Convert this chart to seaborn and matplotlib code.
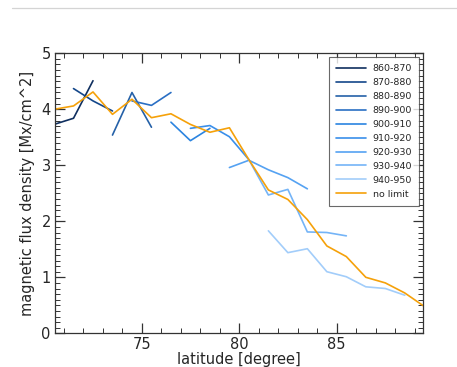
import numpy as np
import pandas as pd
import matplotlib
matplotlib.use("Agg")
import matplotlib.pyplot as plt
from matplotlib.lines import Line2D
from matplotlib.ticker import MultipleLocator
import seaborn as sns

# ---- data ----
ranges = ["860-870", "870-880", "880-890", "890-900", "900-910",
          "910-920", "920-930", "930-940", "940-950", "no limit"]

lat_860 = [70.5, 71.5, 72.5]
val_860 = [3.73, 3.84, 4.51]
lat_870 = [71.5, 72.5, 73.5]
val_870 = [4.37, 4.15, 3.97]
lat_880 = [73.5, 74.5, 75.5]
val_880 = [3.54, 4.30, 3.68]
lat_890 = [74.5, 75.5, 76.5]
val_890 = [4.15, 4.07, 4.30]
lat_900 = [76.5, 77.5, 78.5]
val_900 = [3.77, 3.44, 3.66]
lat_910 = [77.5, 78.5, 79.5, 80.5]
val_910 = [3.66, 3.71, 3.51, 3.10]
lat_920 = [79.5, 80.5, 81.5, 82.5, 83.5]
val_920 = [2.96, 3.09, 2.92, 2.78, 2.58]
lat_930 = [80.5, 81.5, 82.5, 83.5, 84.5, 85.5]
val_930 = [3.10, 2.47, 2.57, 1.81, 1.80, 1.74]
lat_940 = [81.5, 82.5, 83.5, 84.5, 85.5, 86.5, 87.5, 88.5]
val_940 = [1.83, 1.44, 1.51, 1.10, 1.01, 0.83, 0.80, 0.68]
lat_all = [70.5, 71.5, 72.5, 73.5, 74.5, 75.5, 76.5, 77.5, 78.5, 79.5,
           80.5, 81.5, 82.5, 83.5, 84.5, 85.5, 86.5, 87.5, 88.5, 89.5]
val_all = [4.00, 4.06, 4.31, 3.91, 4.18, 3.85, 3.92, 3.73, 3.59, 3.67,
           3.10, 2.56, 2.39, 2.03, 1.56, 1.37, 1.00, 0.90, 0.72, 0.48]

x_ticks = [75, 80, 85]
y_ticks = [0, 1, 2, 3, 4, 5]

colors = ["#0f2f5f", "#14478a", "#2561a8", "#2a6fc4", "#2b84e0",
          "#3a8fea", "#55a2f2", "#74b4f7", "#a2cdfa", "#f5a10a"]

series = [(lat_860, val_860), (lat_870, val_870), (lat_880, val_880),
          (lat_890, val_890), (lat_900, val_900), (lat_910, val_910),
          (lat_920, val_920), (lat_930, val_930), (lat_940, val_940),
          (lat_all, val_all)]

rows = []
for name, (la, va) in zip(ranges, series):
    for a, b in zip(la, va):
        rows.append({"latitude": a, "flux": b, "range": name})
df = pd.DataFrame(rows)

# ---- plot ----
sns.set_style("ticks")
plt.rcParams["font.family"] = ["DejaVu Sans"]

fig = plt.figure(figsize=(4.57, 3.67), dpi=100)
ax = fig.add_axes([55 / 457, 1 - 333.3 / 367, (423.3 - 55) / 457, (333.3 - 53.3) / 367])

sns.lineplot(data=df, x="latitude", y="flux", hue="range", hue_order=ranges,
             palette=dict(zip(ranges, colors)), sort=False, estimator=None,
             linewidth=1.2, ax=ax)

ax.set_xlim(70.55, 89.45)
ax.set_ylim(0, 5)
ax.set_xticks(x_ticks)
ax.set_yticks(y_ticks)
ax.xaxis.set_minor_locator(MultipleLocator(1))
ax.yaxis.set_minor_locator(MultipleLocator(0.1))
ax.tick_params(which="both", direction="in", top=True, right=True,
               color="#333333", labelsize=10.5)
ax.tick_params(which="major", length=7, width=0.9, pad=3)
ax.tick_params(which="minor", length=3.5, width=0.7)
for s in ax.spines.values():
    s.set_color("#333333")
    s.set_linewidth(0.9)

ax.set_xlabel("latitude [degree]", fontsize=10.5, labelpad=0)
ax.set_ylabel("magnetic flux density [Mx/cm^2]", fontsize=10.5, labelpad=5)

sns.move_legend(ax, "upper right", title=None, fontsize=6.8, frameon=True,
                fancybox=False, handlelength=3.2, labelspacing=0.52,
                borderpad=0.75, handletextpad=0.7, borderaxespad=0,
                bbox_to_anchor=((419.3 - 55) / 368.3, (333.3 - 57.3) / 280.0),
                edgecolor="#444444")
ax.get_legend().get_frame().set_linewidth(0.8)

fig.add_artist(Line2D([12 / 457, 1.0], [1 - 8 / 367] * 2, transform=fig.transFigure,
                      color="#d4d4d4", linewidth=0.9))

fig.savefig("out.png", dpi=100)
